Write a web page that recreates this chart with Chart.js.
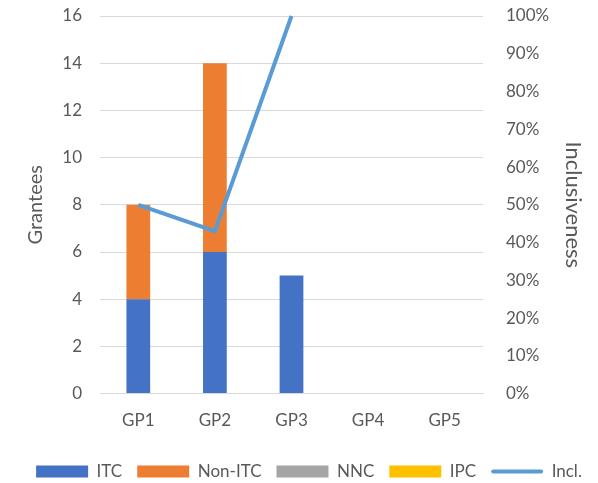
<!DOCTYPE html>
<html>
<head>
<meta charset="utf-8">
<script src="https://cdn.jsdelivr.net/npm/chart.js"></script>
<style>
  html, body { margin: 0; padding: 0; background: #fff; }
  #wrap { width: 598px; height: 483px; }
</style>
</head>
<body>
<div id="wrap"><canvas id="chartCanvas" width="598" height="483"></canvas></div>
<script>
// Daten
const categories = ['GP1', 'GP2', 'GP3', 'GP4', 'GP5'];
const itc = [4, 6, 5, 0, 0];
const nonItc = [4, 8, 0, 0, 0];
const nnc = [0, 0, 0, 0, 0];
const ipc = [0, 0, 0, 0, 0];
const incl = [0.5, 0.43, 1.0, null, null];

const FONT = 'Lato, "Open Sans", sans-serif';
const TEXT = '#595959';
const GRID = '#d9d9d9';

// Linie statt Kasten für den Legendeneintrag "Incl."
const legendLine = {
    id: 'legendLine',
    afterDraw(chart) {
        const legend = chart.legend;
        if (!legend || !legend.legendHitBoxes) return;
        const idx = legend.legendItems.findIndex(i => i.text === 'Incl.');
        const box = legend.legendHitBoxes[idx];
        if (!box) return;
        const ctx = chart.ctx;
        const bw = legend.options.labels.boxWidth;
        const y = box.top + box.height / 2;
        ctx.save();
        ctx.strokeStyle = '#5b9bd5';
        ctx.lineWidth = 4;
        ctx.lineCap = 'round';
        ctx.beginPath();
        ctx.moveTo(box.left + 2, y);
        ctx.lineTo(box.left + bw - 2, y);
        ctx.stroke();
        ctx.restore();
    }
};

// vertikale Achsen sollen oben/unten keinen Extra-Platz reservieren
function noVPad(scale) {
    scale.paddingTop = 0;
    scale.paddingBottom = 0;
}

const ctx = document.getElementById('chartCanvas').getContext('2d');
new Chart(ctx, {
    type: 'bar',
    data: {
        labels: categories,
        datasets: [
            { label: 'ITC', data: itc, backgroundColor: '#4472c4', stack: 's', yAxisID: 'y', order: 2 },
            { label: 'Non-ITC', data: nonItc, backgroundColor: '#ed7d31', stack: 's', yAxisID: 'y', order: 2 },
            { label: 'NNC', data: nnc, backgroundColor: '#a5a5a5', stack: 's', yAxisID: 'y', order: 2 },
            { label: 'IPC', data: ipc, backgroundColor: '#ffc000', stack: 's', yAxisID: 'y', order: 2 },
            {
                type: 'line', label: 'Incl.', data: incl, yAxisID: 'y1', order: 1,
                borderColor: '#5b9bd5', backgroundColor: 'transparent', borderWidth: 4,
                pointRadius: 0, tension: 0, clip: false
            }
        ]
    },
    options: {
        responsive: false,
        animation: false,
        layout: { padding: { top: 16, left: 20, right: 0, bottom: -7 } },
        datasets: { bar: { barPercentage: 0.62, categoryPercentage: 0.5 } },
        plugins: {
            tooltip: { enabled: false },
            legend: {
                position: 'bottom',
                labels: {
                    boxWidth: 52,
                    boxHeight: 12,
                    padding: 15,
                    color: TEXT,
                    font: { family: FONT, size: 17 },
                    generateLabels(chart) {
                        const items = Chart.defaults.plugins.legend.labels.generateLabels(chart);
                        items.sort((a, b) => a.datasetIndex - b.datasetIndex);
                        items.forEach(it => {
                            it.lineWidth = 0;
                            if (it.text === 'Incl.') {
                                it.fillStyle = 'rgba(0,0,0,0)';
                                it.strokeStyle = 'rgba(0,0,0,0)';
                            }
                        });
                        return items;
                    }
                }
            }
        },
        scales: {
            x: {
                stacked: true,
                grid: { display: false, drawTicks: false },
                border: { display: true, color: GRID, width: 1 },
                ticks: { color: TEXT, font: { family: FONT, size: 17 }, padding: 17 }
            },
            y: {
                stacked: true,
                position: 'left',
                min: 0, max: 16,
                ticks: { stepSize: 2, color: TEXT, font: { family: FONT, size: 17 }, padding: 18 },
                grid: { color: GRID, drawTicks: false },
                border: { display: false },
                title: { display: true, text: 'Grantees', color: TEXT, font: { family: FONT, size: 20 }, padding: { top: 4, bottom: 0 } },
                afterFit(scale) { scale.width = 80; noVPad(scale); }
            },
            y1: {
                position: 'right',
                min: 0, max: 1,
                ticks: {
                    stepSize: 0.1, color: TEXT, font: { family: FONT, size: 17 }, padding: 23,
                    callback: v => Math.round(v * 100) + '%'
                },
                grid: { display: false, drawTicks: false },
                border: { display: false },
                title: { display: true, text: 'Inclusiveness', color: TEXT, font: { family: FONT, size: 22 }, padding: { top: 12, bottom: 0 } },
                afterFit(scale) { scale.width = 115; noVPad(scale); }
            }
        }
    },
    plugins: [legendLine]
});
</script>
</body>
</html>
